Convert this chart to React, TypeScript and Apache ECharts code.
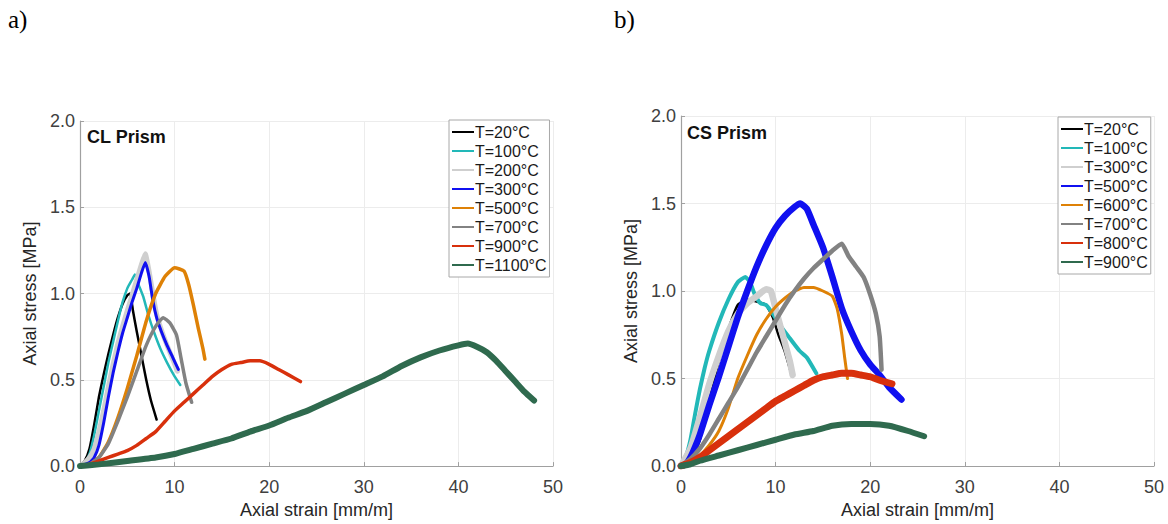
import React, { useEffect, useRef } from "react";
import * as echarts from "echarts";

// ---------- axis ticks ----------
const X_MIN = 0;
const X_MAX = 50;
const X_STEP = 10;
const Y_MIN = 0;
const Y_MAX = 2;
const Y_STEP = 0.5;

// ---------- a) CL Prism ----------
const CL_NAMES = ["T=20°C", "T=100°C", "T=200°C", "T=300°C", "T=500°C", "T=700°C", "T=900°C", "T=1100°C"];
const CL_T20 = [[0,0],[0.5,0.03],[1,0.1],[1.5,0.24],[2,0.4],[2.5,0.53],[3,0.65],[3.5,0.76],[4,0.86],[4.5,0.94],[5,0.99],[5.3,1.0],[5.6,0.9],[6,0.78],[6.5,0.64],[7,0.5],[7.5,0.38],[8.1,0.27]];
const CL_T100 = [[0,0],[0.5,0.02],[1,0.07],[1.5,0.18],[2,0.32],[2.5,0.46],[3,0.6],[3.5,0.72],[4,0.84],[4.5,0.95],[5,1.03],[5.5,1.08],[5.8,1.11],[6.2,1.05],[6.7,0.98],[7.2,0.88],[7.8,0.78],[8.5,0.68],[9.2,0.6],[10,0.52],[10.6,0.47]];
const CL_T200 = [[0,0],[0.5,0.02],[1,0.05],[1.5,0.1],[2,0.2],[2.5,0.32],[3,0.46],[3.5,0.59],[4,0.71],[4.5,0.81],[5,0.9],[5.5,0.99],[6,1.08],[6.5,1.17],[6.9,1.23],[7.3,1.13],[7.7,1.0],[8.1,0.88],[8.6,0.79],[9.2,0.7],[9.8,0.62],[10.3,0.55]];
const CL_T300 = [[0,0],[1,0.02],[1.5,0.05],[2,0.12],[2.5,0.25],[3,0.4],[3.5,0.54],[4,0.66],[4.5,0.77],[5,0.86],[5.5,0.95],[6,1.03],[6.5,1.12],[6.9,1.18],[7.3,1.1],[7.7,0.96],[8.1,0.86],[8.6,0.78],[9.2,0.7],[9.8,0.63],[10.4,0.56]];
const CL_T500 = [[0,0],[1,0.01],[2,0.05],[3,0.14],[4,0.28],[5,0.45],[6,0.64],[7,0.84],[8,1.0],[9,1.1],[10,1.15],[11,1.13],[11.5,1.05],[12,0.93],[12.5,0.8],[13,0.68],[13.2,0.62]];
const CL_T700 = [[0,0],[1,0.01],[2,0.05],[3,0.13],[4,0.26],[5,0.4],[6,0.55],[7,0.7],[8,0.81],[8.8,0.86],[9.5,0.83],[10.2,0.76],[10.7,0.62],[11.2,0.48],[11.8,0.37]];
const CL_T900 = [[0,0],[1,0.01],[2,0.03],[3,0.05],[4,0.07],[5,0.09],[6,0.12],[7,0.16],[8,0.2],[9,0.26],[10,0.32],[11,0.37],[12,0.42],[13,0.47],[14,0.52],[15,0.56],[16,0.59],[17,0.6],[18,0.61],[19,0.61],[20,0.59],[21,0.56],[22,0.53],[23.3,0.49]];
const CL_T1100 = [[0,0],[2,0.01],[5,0.03],[8,0.05],[10,0.07],[12,0.1],[14,0.13],[16,0.16],[18,0.2],[20,0.235],[22,0.28],[24,0.32],[26,0.37],[28,0.42],[30,0.47],[32,0.52],[34,0.58],[36,0.63],[38,0.67],[40,0.7],[41,0.71],[42,0.69],[43,0.66],[44,0.61],[45,0.55],[46,0.49],[47,0.43],[48,0.38]];
const CL_DATA = [CL_T20, CL_T100, CL_T200, CL_T300, CL_T500, CL_T700, CL_T900, CL_T1100];
const CL_COLORS = ["#000000", "#22b8b8", "#cfcfcf", "#1010f0", "#de8106", "#828282", "#d8300c", "#2f6a4e"];
const CL_WIDTHS = [2.5, 2.5, 5, 3, 3.5, 3.5, 3.5, 6];

// ---------- b) CS Prism ----------
const CS_NAMES = ["T=20°C", "T=100°C", "T=300°C", "T=500°C", "T=600°C", "T=700°C", "T=800°C", "T=900°C"];
const CS_T20 = [[0,0],[1,0.03],[2,0.15],[3,0.38],[4,0.6],[5,0.78],[6,0.92],[7,0.95],[8,0.94],[9,0.92],[9.7,0.85],[10.3,0.75],[11,0.65],[11.7,0.52]];
const CS_T100 = [[0,0],[0.5,0.05],[1,0.15],[1.5,0.3],[2,0.44],[2.5,0.56],[3,0.66],[4,0.82],[5,0.95],[6,1.05],[6.8,1.08],[7.3,1.05],[7.8,0.98],[8.4,0.93],[9,0.92],[9.7,0.87],[10.5,0.8],[11.5,0.73],[12.5,0.66],[13.3,0.62],[14.3,0.53]];
const CS_T300 = [[0,0],[1,0.1],[2,0.28],[3,0.47],[4,0.63],[5,0.77],[6,0.87],[7,0.93],[8,0.97],[9,1.01],[9.5,1.0],[10,0.9],[10.5,0.8],[11,0.7],[11.5,0.6],[11.8,0.52]];
const CS_T500 = [[0,0],[0.5,0.01],[1,0.05],[1.5,0.11],[2,0.18],[3,0.35],[4,0.51],[5,0.68],[6,0.85],[7,1.0],[8,1.14],[9,1.26],[10,1.36],[11,1.43],[12,1.48],[12.6,1.5],[13.3,1.47],[14,1.38],[15,1.25],[16,1.08],[17,0.9],[18,0.77],[19,0.66],[20,0.58],[21,0.52],[22,0.45],[23.3,0.38]];
const CS_T600 = [[0,0],[1,0.02],[2,0.06],[3,0.12],[4,0.2],[5,0.33],[6,0.5],[7,0.63],[8,0.75],[9,0.84],[10,0.91],[11,0.96],[12,1.0],[13,1.02],[14,1.02],[15,1.0],[16,0.97],[16.5,0.9],[17,0.75],[17.3,0.62],[17.6,0.5]];
const CS_T700 = [[0,0],[1,0.04],[2,0.1],[3,0.18],[4,0.27],[5,0.36],[6,0.45],[7,0.55],[8,0.65],[9,0.74],[10,0.83],[11,0.92],[12,1.0],[13,1.07],[14,1.13],[15,1.18],[16,1.23],[17,1.27],[17.7,1.2],[18.5,1.14],[19.3,1.08],[20,0.98],[20.6,0.87],[21,0.74],[21.2,0.55]];
const CS_T800 = [[0,0],[1,0.02],[2,0.05],[3,0.09],[4,0.13],[5,0.17],[6,0.21],[7,0.25],[8,0.29],[9,0.33],[10,0.37],[11,0.4],[12,0.43],[13,0.46],[14,0.49],[15,0.51],[16,0.52],[17,0.53],[18,0.53],[19,0.52],[20,0.51],[21,0.49],[22.3,0.47]];
const CS_T900 = [[0,0],[1,0.01],[2,0.03],[4,0.06],[6,0.09],[8,0.12],[10,0.15],[12,0.18],[14,0.2],[16,0.23],[18,0.24],[20,0.24],[22,0.23],[24,0.2],[25.7,0.17]];
const CS_DATA = [CS_T20, CS_T100, CS_T300, CS_T500, CS_T600, CS_T700, CS_T800, CS_T900];
const CS_COLORS = ["#000000", "#22b8b8", "#cfcfcf", "#1010f0", "#de8106", "#828282", "#d8300c", "#2f6a4e"];
const CS_WIDTHS = [2.5, 4, 6.5, 6.5, 3, 4.5, 7, 6];

const FONT = "'Liberation Sans', Arial, sans-serif";

type PanelCfg = {
  tag: string;
  tagX: number;
  title: string;
  titleX: number;
  titleY: number;
  names: string[];
  data: number[][][];
  colors: string[];
  widths: number[];
  gridLeft: number;
  gridTop: number;
  gridHeight: number;
  legendLeft: number;
  legendTop: number;
  xNameGap: number;
};

function makeOption(c: PanelCfg): any {
  return {
    animation: false,
    backgroundColor: "#ffffff",
    grid: { left: c.gridLeft, top: c.gridTop, width: 473, height: c.gridHeight, containLabel: false },
    xAxis: {
      type: "value",
      min: X_MIN,
      max: X_MAX,
      interval: X_STEP,
      name: "Axial strain [mm/m]",
      nameLocation: "middle",
      nameGap: c.xNameGap,
      nameTextStyle: { fontFamily: FONT, fontSize: 18, color: "#262626" },
      axisLine: { show: true, lineStyle: { color: "#a0a0a0", width: 1.2 } },
      axisTick: { show: true, inside: true, length: 4, lineStyle: { color: "#a0a0a0" } },
      axisLabel: { fontFamily: FONT, fontSize: 18, color: "#404040", margin: 12 },
      splitLine: { show: true, lineStyle: { color: "#ececec", width: 1 } },
    },
    yAxis: {
      type: "value",
      min: Y_MIN,
      max: Y_MAX,
      interval: Y_STEP,
      name: "Axial stress [MPa]",
      nameLocation: "middle",
      nameGap: 38,
      nameTextStyle: { fontFamily: FONT, fontSize: 18, color: "#262626" },
      axisLine: { show: true, lineStyle: { color: "#a0a0a0", width: 1.2 } },
      axisTick: { show: true, inside: true, length: 4, lineStyle: { color: "#a0a0a0" } },
      axisLabel: { fontFamily: FONT, fontSize: 18, color: "#404040", margin: 5, formatter: (v: number) => v.toFixed(1) },
      splitLine: { show: true, lineStyle: { color: "#ececec", width: 1 } },
    },
    legend: {
      orient: "vertical",
      left: c.legendLeft,
      top: c.legendTop,
      data: c.names,
      icon: "rect",
      itemWidth: 22,
      itemHeight: 2,
      itemGap: 3,
      padding: [4, 3, 4, 3],
      backgroundColor: "#ffffff",
      borderColor: "#a8a8a8",
      borderWidth: 1,
      borderRadius: 0,
      selectedMode: false,
      textStyle: { fontFamily: FONT, fontSize: 16, color: "#1a1a1a", padding: [0, 0, 0, -4] },
    },
    graphic: [
      { type: "text", left: c.tagX, top: 7, style: { text: c.tag, fontFamily: "'Liberation Serif', 'Times New Roman', serif", fontSize: 25, fill: "#000" } },
      { type: "text", left: c.titleX, top: c.titleY, style: { text: c.title, fontFamily: FONT, fontSize: 18, fontWeight: "bold", fill: "#111" } },
    ],
    series: c.names.map((n, i) => ({
      name: n,
      type: "line",
      data: c.data[i],
      showSymbol: false,
      symbol: "none",
      smooth: 0.15,
      color: c.colors[i],
      lineStyle: { color: c.colors[i], width: c.widths[i], join: "round", cap: "round" },
      emphasis: { disabled: true },
      z: 2,
    })),
  };
}

const LEFT_CFG: PanelCfg = {
  tag: "a)", tagX: 8, title: "CL Prism", titleX: 87, titleY: 128,
  names: CL_NAMES, data: CL_DATA, colors: CL_COLORS, widths: CL_WIDTHS,
  gridLeft: 80, gridTop: 121, gridHeight: 348, legendLeft: 449, legendTop: 120, xNameGap: 34,
};
const RIGHT_CFG: PanelCfg = {
  tag: "b)", tagX: 30, title: "CS Prism", titleX: 103, titleY: 124,
  names: CS_NAMES, data: CS_DATA, colors: CS_COLORS, widths: CS_WIDTHS,
  gridLeft: 97, gridTop: 116, gridHeight: 350, legendLeft: 474, legendTop: 117, xNameGap: 34,
};

function Panel({ cfg, left }: { cfg: PanelCfg; left: number }) {
  const ref = useRef<HTMLDivElement>(null);
  useEffect(() => {
    if (!ref.current) return;
    const chart = echarts.init(ref.current, null, { renderer: "svg" });
    chart.setOption(makeOption(cfg));
    return () => chart.dispose();
  }, [cfg]);
  return <div ref={ref} style={{ position: "absolute", left, top: 0, width: 584, height: 524 }} />;
}

export default function App() {
  return (
    <div style={{ position: "fixed", left: 0, top: 0, width: 1168, height: 524, background: "#fff" }}>
      <Panel cfg={LEFT_CFG} left={0} />
      <Panel cfg={RIGHT_CFG} left={584} />
    </div>
  );
}
